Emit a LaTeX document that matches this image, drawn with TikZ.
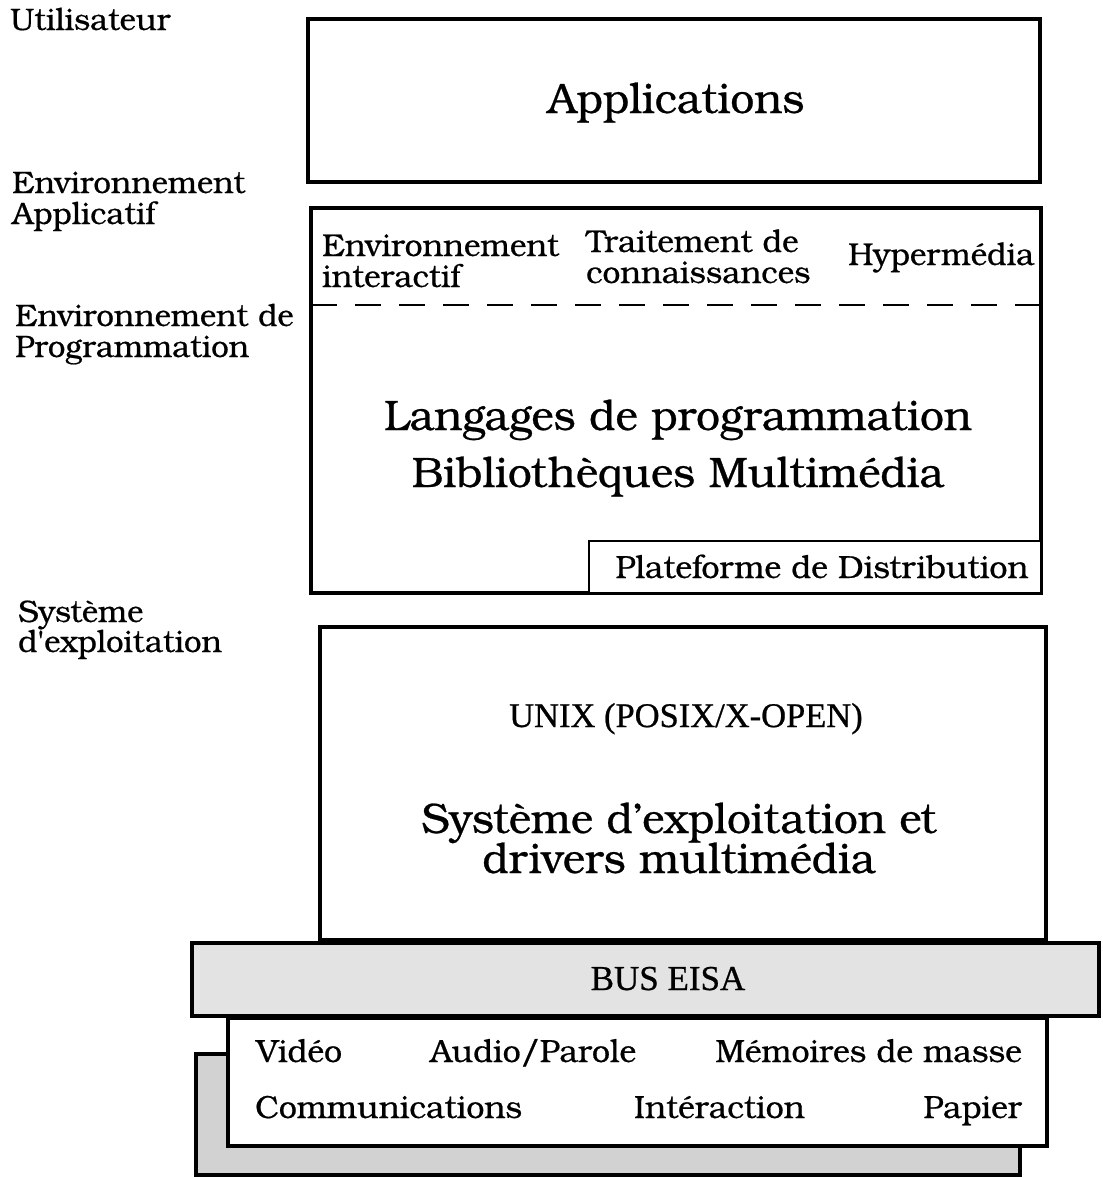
\documentclass[tikz,border=0pt]{standalone}
\usepackage{fontspec}
\setmainfont{TeX Gyre Bonum}[FakeBold=0.6]
% same face without the TeX quote mapping, for a straight apostrophe
\newfontfamily\plainbk{TeX Gyre Bonum}[FakeBold=0.6]
\newfontfamily\condfont{Liberation Serif}[FakeBold=0.7]
\begin{document}
\begin{tikzpicture}[x=1pt,y=-1pt,
  layer/.style={draw, line width=4.5pt, rectangle, inner sep=0pt, outer sep=0pt, fill=white},
  side/.style={anchor=base west, inner sep=0pt, font=\fontsize{31}{34}\selectfont},
  inner/.style={anchor=base west, inner sep=0pt, font=\fontsize{31.5}{34}\selectfont},
  big/.style={anchor=base, inner sep=0pt, font=\fontsize{42.5}{48}\selectfont},
  dev/.style={inner sep=0pt, font=\fontsize{32}{36}\selectfont},
  cond/.style={inner sep=0pt, anchor=base, font=\condfont\fontsize{34.5}{38}\selectfont}]
\useasboundingbox (0,0) rectangle (1103,1178);

% hardware stack: shadow card, device card, bus
\node[layer, fill=gray!35, minimum width=824pt, minimum height=121pt] (shadow) at (608,1114.5) {};
\node[layer, minimum width=819pt, minimum height=128pt] (dev) at (637.5,1082) {};
\node[layer, fill=gray!22, minimum width=907pt, minimum height=73pt] (bus) at (645.5,979.5) {};

% software layers
\node[layer, minimum width=732pt, minimum height=163pt] (apps) at (674,100.5) {};
\node[layer, minimum width=730pt, minimum height=385pt] (prog) at (676,400.5) {};
\node[layer, minimum width=726pt, minimum height=313pt] (os) at (683,783.5) {};
\node[draw, line width=2.5pt, rectangle, inner sep=0pt, outer sep=0pt, fill=white,
      minimum width=452pt, minimum height=52pt] (plat) at (815,567) {};

% border between application and programming environments
\coordinate (dashL) at (prog.west |- 0,305);
\coordinate (dashR) at (prog.east |- 0,305);
\draw[line width=2pt, dash pattern=on 26pt off 18pt] (dashL) -- (dashR);

% level names on the left
\node[side] (u1) at (10,30) {Utilisateur};
\node[side] (ea1) at (12,193) {Environnement};
\node[side] (ea2) at (12,224) {Applicatif};
\node[side] (ep1) at (15,326) {Environnement de};
\node[side] (ep2) at (15,357) {Programmation};
\node[side] (se1) at (18,622) {Système};
\node[side] (se2) at (18,652) {d{\plainbk '}exploitation};

% contents of the layers
\node[big] (appt) at (676,113) {Applications};
\node[inner] (ei1) at (322,256) {Environnement};
\node[inner] (ei2) at (322,287) {interactif};
\node[inner] (tc1) at (586,252) {Traitement de};
\node[inner] (tc2) at (586,283) {connaissances};
\node[inner] (hm) at (848,265) {Hypermédia};
\node[big] (lp) at (678,430) {Langages de programmation};
\node[big] (bm) at (678,487) {Bibliothèques Multimédia};
\node[anchor=base, inner sep=0pt, font=\fontsize{32}{36}\selectfont] (platt) at (822,578) {Plateforme de Distribution};
\node[cond] (unix) at (686,727) {UNIX (POSIX/X-OPEN)};
\node[big] (so1) at (679,833) {Système d'exploitation et};
\node[big] (so2) at (679,873) {drivers multimédia};
\node[cond, font=\condfont\fontsize{35}{38}\selectfont] (bust) at (668,990) {BUS EISA};
\node[dev, anchor=base west] (vid) at (256,1062) {Vidéo};
\node[dev, anchor=base west] (aud) at (430,1062) {Audio/Parole};
\node[dev, anchor=base east] (mem) at (1022,1062) {Mémoires de masse};
\node[dev, anchor=base west] (com) at (255,1118) {Communications};
\node[dev, anchor=base west] (int) at (634,1118) {Intéraction};
\node[dev, anchor=base east] (pap) at (1022,1118) {Papier};
\end{tikzpicture}
\end{document}
